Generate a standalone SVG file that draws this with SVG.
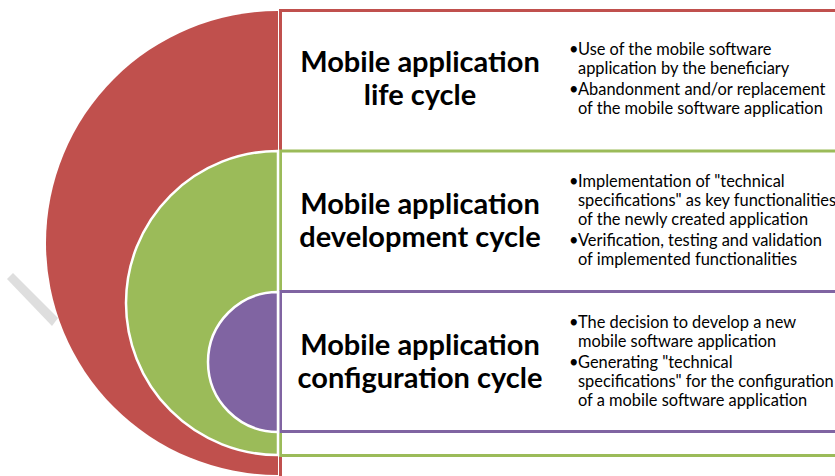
<svg xmlns="http://www.w3.org/2000/svg" width="835" height="476" viewBox="0 0 835 476">
<style>
.title{font-family:Lato,"Open Sans","Liberation Sans",sans-serif;font-weight:bold;font-size:29px;fill:#000;text-anchor:middle}
.bul{font-family:Lato,"Open Sans","Liberation Sans",sans-serif;font-size:16.4px;fill:#000}
.box{fill:#fff;stroke-width:3}
.wm{fill:#dedede}
</style>
<rect width="835" height="476" fill="#fff"/>
<polygon class="wm" points="7,279 13,273 58,318 52,326"/>
<g id="life-box">
<rect class="box" x="280.5" y="10.5" width="600" height="520" stroke="#C0504D"/>
</g>
<g id="dev-box">
<rect class="box" x="280.5" y="151" width="600" height="304.5" stroke="#9BBB59"/>
</g>
<g id="config-box">
<rect class="box" x="280.5" y="291.5" width="600" height="140" stroke="#8064A2"/>
</g>
<g id="life-disc">
<path d="M278,11 A232,232 0 0 0 278,475 Z" fill="#C0504D"/>
</g>
<g id="dev-disc">
<path d="M278,151 A152,152 0 0 0 278,455 Z" fill="#9BBB59" stroke="#fff" stroke-width="2.5"/>
</g>
<g id="config-disc">
<path d="M278,292 A70,70 0 0 0 278,432 Z" fill="#8064A2" stroke="#fff" stroke-width="2.5"/>
</g>
<g id="life-text">
<text class="title" x="420" y="72">Mobile application</text>
<text class="title" x="420" y="105">life cycle</text>
<text class="bul" x="569" y="55">•</text>
<text class="bul" x="578" y="55">Use of the mobile software</text>
<text class="bul" x="578" y="74">application by the beneficiary</text>
<text class="bul" x="569" y="95">•</text>
<text class="bul" x="578" y="95">Abandonment and/or replacement</text>
<text class="bul" x="578" y="114">of the mobile software application</text>
</g>
<g id="dev-text">
<text class="title" x="420" y="214">Mobile application</text>
<text class="title" x="420" y="247">development cycle</text>
<text class="bul" x="569" y="187">•</text>
<text class="bul" x="578" y="187">Implementation of "technical</text>
<text class="bul" x="578" y="206">specifications" as key functionalities</text>
<text class="bul" x="578" y="225">of the newly created application</text>
<text class="bul" x="569" y="246">•</text>
<text class="bul" x="578" y="246">Verification, testing and validation</text>
<text class="bul" x="578" y="265">of implemented functionalities</text>
</g>
<g id="config-text">
<text class="title" x="420" y="355">Mobile application</text>
<text class="title" x="420" y="388">configuration cycle</text>
<text class="bul" x="569" y="328">•</text>
<text class="bul" x="578" y="328">The decision to develop a new</text>
<text class="bul" x="578" y="347">mobile software application</text>
<text class="bul" x="569" y="368">•</text>
<text class="bul" x="578" y="368">Generating "technical</text>
<text class="bul" x="578" y="387">specifications" for the configuration</text>
<text class="bul" x="578" y="406">of a mobile software application</text>
</g>
<g id="connectors"></g>
</svg>
